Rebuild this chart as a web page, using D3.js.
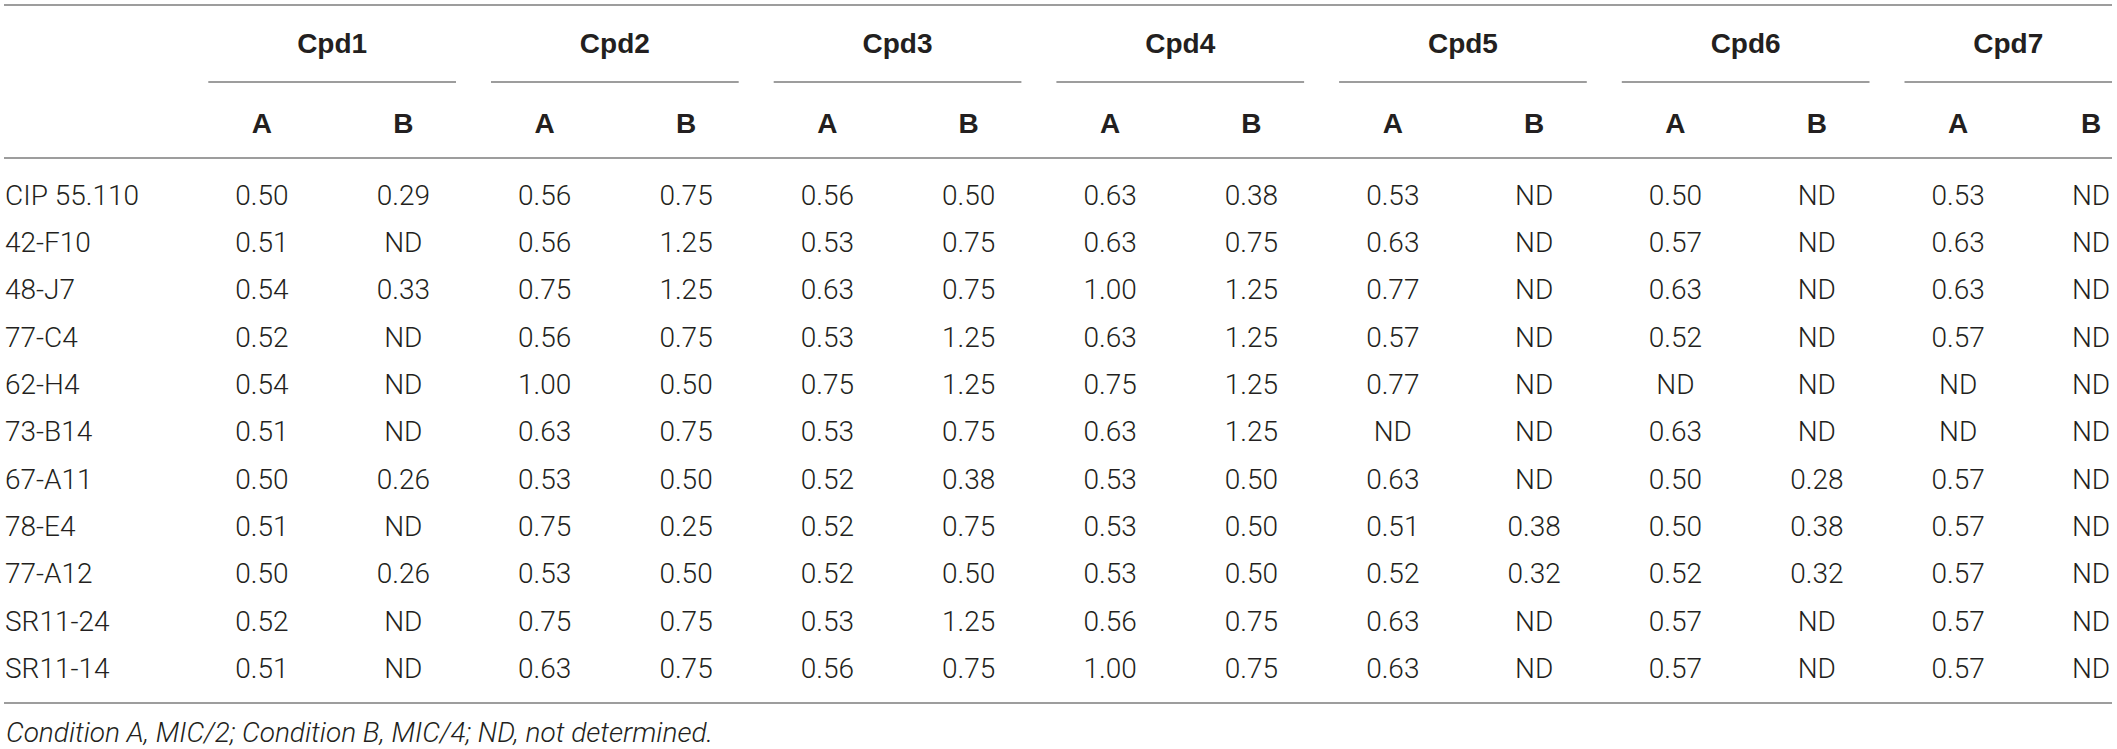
<!DOCTYPE html>
<html>
<head>
<meta charset="utf-8">
<script src="https://cdn.jsdelivr.net/npm/d3@7"></script>
<style>
  body { margin: 0; background: #fff; }
  svg text { font-family: "Liberation Sans", Arial, Helvetica, sans-serif; }
  svg text.light { font-family: Roboto, "Liberation Sans", Arial, sans-serif; font-weight: 300; }
</style>
</head>
<body>
<svg id="tbl" width="2117" height="749"></svg>
<script>
const compounds = ['Cpd1', 'Cpd2', 'Cpd3', 'Cpd4', 'Cpd5', 'Cpd6', 'Cpd7'];
const conditions = ['A', 'B'];
const strains = ['CIP 55.110', '42-F10', '48-J7', '77-C4', '62-H4', '73-B14',
                 '67-A11', '78-E4', '77-A12', 'SR11-24', 'SR11-14'];

// one row per strain, columns Cpd1 A, Cpd1 B, ... Cpd7 B
const values = [
  ['0.50', '0.29', '0.56', '0.75', '0.56', '0.50', '0.63', '0.38', '0.53', 'ND', '0.50', 'ND', '0.53', 'ND'],
  ['0.51', 'ND', '0.56', '1.25', '0.53', '0.75', '0.63', '0.75', '0.63', 'ND', '0.57', 'ND', '0.63', 'ND'],
  ['0.54', '0.33', '0.75', '1.25', '0.63', '0.75', '1.00', '1.25', '0.77', 'ND', '0.63', 'ND', '0.63', 'ND'],
  ['0.52', 'ND', '0.56', '0.75', '0.53', '1.25', '0.63', '1.25', '0.57', 'ND', '0.52', 'ND', '0.57', 'ND'],
  ['0.54', 'ND', '1.00', '0.50', '0.75', '1.25', '0.75', '1.25', '0.77', 'ND', 'ND', 'ND', 'ND', 'ND'],
  ['0.51', 'ND', '0.63', '0.75', '0.53', '0.75', '0.63', '1.25', 'ND', 'ND', '0.63', 'ND', 'ND', 'ND'],
  ['0.50', '0.26', '0.53', '0.50', '0.52', '0.38', '0.53', '0.50', '0.63', 'ND', '0.50', '0.28', '0.57', 'ND'],
  ['0.51', 'ND', '0.75', '0.25', '0.52', '0.75', '0.53', '0.50', '0.51', '0.38', '0.50', '0.38', '0.57', 'ND'],
  ['0.50', '0.26', '0.53', '0.50', '0.52', '0.50', '0.53', '0.50', '0.52', '0.32', '0.52', '0.32', '0.57', 'ND'],
  ['0.52', 'ND', '0.75', '0.75', '0.53', '1.25', '0.56', '0.75', '0.63', 'ND', '0.57', 'ND', '0.57', 'ND'],
  ['0.51', 'ND', '0.63', '0.75', '0.56', '0.75', '1.00', '0.75', '0.63', 'ND', '0.57', 'ND', '0.57', 'ND']
];

const footnote = 'Condition A, MIC/2; Condition B, MIC/4; ND, not determined.';

const svg = d3.select('#tbl');
const left = 4, right = 2112;
const lineColor = '#7d7d7d';

// column layout: each compound group is split into A and B cells
const colW = 141.35;
const group = d3.scaleBand().domain(compounds).range([191.3, 191.3 + colW * 2 * compounds.length]).padding(0);
const sub = d3.scaleBand().domain(conditions).range([0, colW * 2]);
const colX = (cpd, cond) => Math.min(group(cpd) + sub(cond) + sub.bandwidth() / 2, right - 21);

const rowY = d3.scaleLinear().domain([0, strains.length - 1]).range([195, 668]);

function hline (x1, x2, y) {
  svg.append('line')
    .attr('x1', x1).attr('x2', x2)
    .attr('y1', y).attr('y2', y)
    .attr('stroke', lineColor)
    .attr('stroke-width', 1.4);
}

// rules
hline(left, right, 5);
hline(left, right, 158);
hline(left, right, 703);
compounds.forEach(function (c) {
  hline(group(c) + 17, Math.min(group(c) + colW * 2 - 18, right), 82);
});

// group headers
svg.selectAll('text.cpd')
  .data(compounds)
  .enter().append('text')
  .attr('class', 'cpd')
  .attr('x', function (d) { return (group(d) + 17 + Math.min(group(d) + colW * 2 - 18, right)) / 2; })
  .attr('y', 43)
  .attr('dy', '.35em')
  .attr('text-anchor', 'middle')
  .attr('font-size', 28)
  .attr('font-weight', 'bold')
  .attr('fill', '#231f20')
  .text(function (d) { return d; });

// A / B sub headers
const subHeads = [];
compounds.forEach(function (c) {
  conditions.forEach(function (k) { subHeads.push({cpd: c, cond: k}); });
});

svg.selectAll('text.cond')
  .data(subHeads)
  .enter().append('text')
  .attr('class', 'cond')
  .attr('x', function (d) { return colX(d.cpd, d.cond); })
  .attr('y', 123)
  .attr('dy', '.35em')
  .attr('text-anchor', 'middle')
  .attr('font-size', 28)
  .attr('font-weight', 'bold')
  .attr('fill', '#231f20')
  .text(function (d) { return d.cond; });

// body rows
const rows = svg.selectAll('g.row')
  .data(strains)
  .enter().append('g')
  .attr('class', 'row')
  .attr('transform', function (d, i) { return 'translate(0,' + rowY(i) + ')'; });

rows.append('text')
  .attr('class', 'light')
  .attr('x', 5)
  .attr('dy', '.35em')
  .attr('font-size', 28)
  .attr('fill', '#231f20')
  .text(function (d) { return d; });

rows.selectAll('text.val')
  .data(function (d, i) { return values[i].map(function (v, j) { return {v: v, h: subHeads[j]}; }); })
  .enter().append('text')
  .attr('class', 'val light')
  .attr('x', function (d) { return colX(d.h.cpd, d.h.cond); })
  .attr('dy', '.35em')
  .attr('text-anchor', 'middle')
  .attr('font-size', 28)
  .attr('fill', '#231f20')
  .text(function (d) { return d.v; });

svg.append('text')
  .attr('class', 'light')
  .attr('x', 6)
  .attr('y', 732)
  .attr('dy', '.35em')
  .attr('font-size', 28)
  .attr('font-style', 'italic')
  .attr('fill', '#231f20')
  .text(footnote);
</script>
</body>
</html>
